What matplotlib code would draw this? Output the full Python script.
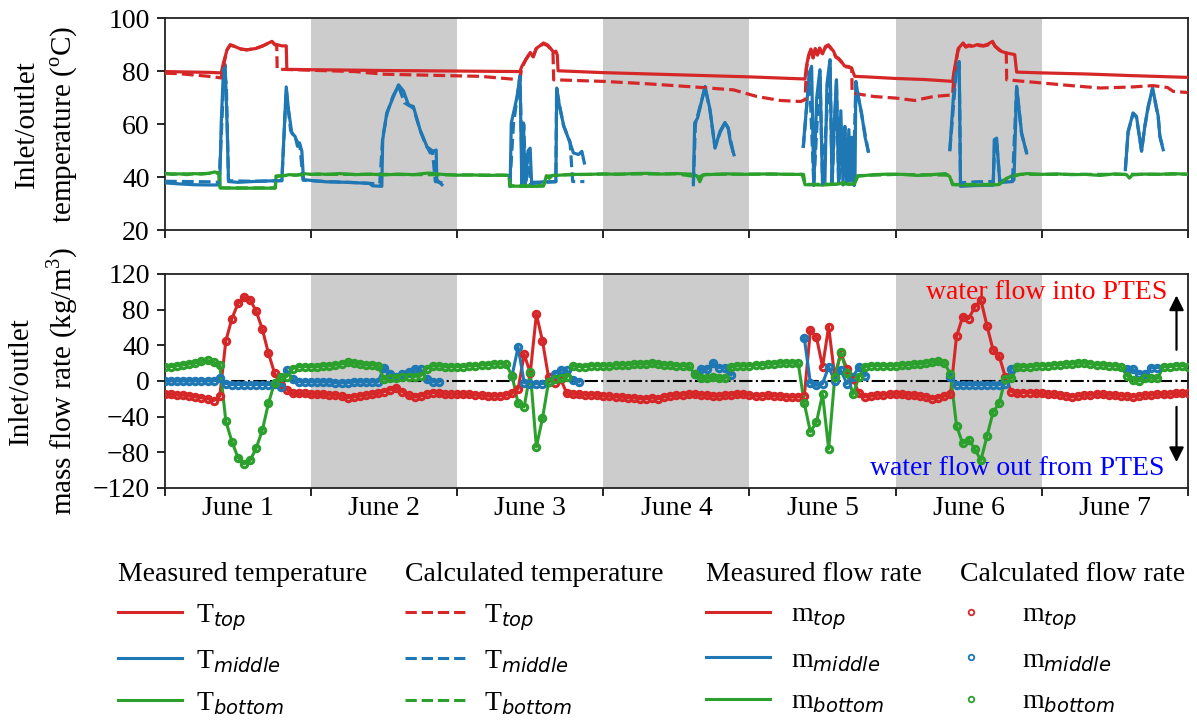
import numpy as np
import matplotlib
matplotlib.use("Agg")
import matplotlib.pyplot as plt
from matplotlib.lines import Line2D

plt.rcParams['font.family'] = ['Liberation Serif', 'DejaVu Sans']
plt.rcParams['mathtext.fontset'] = 'custom'
plt.rcParams['mathtext.rm'] = 'Liberation Serif'
plt.rcParams['mathtext.it'] = 'DejaVu Sans:italic'
plt.rcParams['mathtext.bf'] = 'Liberation Serif:bold'

RED, BLUE, GREEN = '#d62728', '#1f77b4', '#2ca02c'
NA = np.nan

day_labels = ['June 1', 'June 2', 'June 3', 'June 4', 'June 5', 'June 6', 'June 7']
temp_ticks = [20, 40, 60, 80, 100]
flow_ticks = [-120, -80, -40, 0, 40, 80, 120]
shaded_days = [(1, 2), (3, 4), (5, 6)]

# ---- temperatures: (day, degC) vertices, None breaks a trace ----
t_top_meas = [
    (0.00, 79.8), (0.10, 79.7), (0.20, 79.6), (0.30, 79.5), (0.385, 79.3), (0.40, 83.0),
    (0.425, 88.0), (0.447, 89.9), (0.48, 89.2), (0.52, 88.3), (0.56, 88.0), (0.62, 88.5),
    (0.67, 89.5), (0.71, 90.6), (0.732, 91.2), (0.75, 90.2), (0.80, 89.5), (0.83, 89.5),
    (0.834, 80.6), (0.90, 80.6), (1.00, 80.5), (1.20, 80.4), (1.50, 80.2), (2.00, 80.0),
    (2.43, 79.8), (2.44, 81.5), (2.47, 84.5), (2.50, 87.0), (2.52, 85.5), (2.54, 88.5),
    (2.565, 89.5), (2.59, 90.6), (2.62, 89.8), (2.64, 88.5), (2.66, 87.0), (2.675, 87.5),
    (2.685, 86.0), (2.69, 80.1), (3.00, 79.4), (3.50, 78.6), (4.00, 77.8), (4.38, 77.0),
    (4.39, 82.0), (4.405, 86.0), (4.42, 88.3), (4.435, 85.0), (4.45, 88.5), (4.465, 86.0),
    (4.48, 88.7), (4.50, 86.5), (4.52, 89.3), (4.54, 89.9), (4.56, 88.5), (4.575, 87.5),
    (4.59, 85.5), (4.61, 84.8), (4.63, 83.5), (4.65, 81.9), (4.68, 81.7), (4.70, 80.8),
    (4.72, 78.0), (4.80, 77.8), (5.00, 77.2), (5.20, 76.8), (5.39, 76.1), (5.40, 80.0),
    (5.428, 88.5), (5.462, 90.6), (5.48, 89.3), (5.50, 89.8), (5.53, 89.4), (5.56, 90.0),
    (5.60, 89.6), (5.63, 90.1), (5.663, 91.2), (5.68, 89.5), (5.724, 87.4), (5.76, 86.8),
    (5.815, 86.2), (5.828, 79.6), (6.00, 79.3), (6.30, 78.9), (6.60, 78.3), (7.00, 77.6),
]
t_top_calc = [
    (0.00, 79.2), (0.10, 79.0), (0.20, 78.5), (0.30, 78.0), (0.385, 77.4), (0.40, 82.0),
    (0.425, 88.0), (0.447, 89.9), (0.48, 89.2), (0.52, 88.3), (0.56, 88.0), (0.62, 88.5),
    (0.67, 89.5), (0.71, 90.6), (0.732, 91.2), (0.75, 90.0), (0.765, 89.5), (0.768, 80.7),
    (0.90, 80.5), (1.00, 80.3), (1.30, 79.8), (1.50, 78.8), (2.16, 78.0), (2.43, 76.7),
    (2.44, 81.0), (2.47, 84.3), (2.50, 86.8), (2.52, 85.3), (2.54, 88.3), (2.565, 89.3),
    (2.59, 90.3), (2.62, 89.5), (2.64, 88.2), (2.655, 87.8), (2.66, 76.7), (3.00, 76.1),
    (3.30, 75.2), (3.62, 74.0), (3.89, 72.9), (4.05, 70.4), (4.21, 68.9), (4.35, 68.5),
    (4.38, 69.2), (4.39, 81.0), (4.405, 85.5), (4.42, 88.0), (4.435, 85.0), (4.45, 88.2),
    (4.465, 86.0), (4.48, 88.5), (4.50, 86.3), (4.52, 89.0), (4.54, 89.6), (4.56, 88.3),
    (4.575, 87.2), (4.59, 85.3), (4.61, 84.5), (4.63, 83.3), (4.65, 81.7), (4.70, 81.2),
    (4.702, 71.7), (4.85, 70.4), (5.00, 69.8), (5.13, 68.9), (5.26, 70.4), (5.39, 71.0),
    (5.40, 79.0), (5.428, 88.0), (5.462, 90.3), (5.48, 89.0), (5.50, 89.5), (5.53, 89.2),
    (5.56, 89.7), (5.60, 89.4), (5.63, 89.8), (5.663, 91.0), (5.68, 89.3), (5.724, 87.2),
    (5.757, 86.9), (5.76, 76.7), (6.00, 75.5), (6.20, 74.5), (6.40, 73.6), (6.62, 74.0),
    (6.76, 74.5), (6.86, 73.8), (6.90, 72.3), (7.00, 71.9),
]
t_mid_meas = [
    (0.00, 37.8), (0.10, 37.4), (0.20, 37.1), (0.30, 37.0), (0.375, 37.0), (0.385, 60.0),
    (0.40, 80.0), (0.412, 82.4), (0.425, 60.0), (0.435, 38.3), (0.50, 38.0), (0.60, 38.3),
    (0.70, 38.5), (0.80, 38.7), (0.83, 74.0), (0.845, 65.5), (0.868, 56.6), (0.891, 55.3),
    (0.907, 51.6), (0.921, 52.9), (0.937, 49.7), (0.948, 39.0), (1.10, 38.2), (1.25, 38.0),
    (1.40, 37.6), (1.42, 36.7), (1.484, 36.5), (1.49, 54.1), (1.518, 64.2), (1.564, 70.4),
    (1.598, 74.8), (1.632, 72.5), (1.666, 67.3), (1.70, 66.6), (1.746, 57.8), (1.792, 51.6),
    (1.815, 49.1), (1.837, 49.7), (1.856, 50.2), (1.86, 39.0), (1.895, 37.1), None,
    (2.362, 36.5), (2.37, 60.4), (2.39, 65.4), (2.41, 70.4), (2.43, 78.6), (2.442, 36.5),
    (2.453, 60.4), (2.465, 36.5), (2.485, 50.0), (2.499, 50.9), (2.51, 36.5), (2.521, 38.0),
    (2.60, 38.2), (2.675, 38.3), (2.681, 73.6), (2.70, 66.6), (2.73, 59.1), (2.772, 52.9),
    (2.795, 49.1), (2.83, 48.5), (2.853, 49.7), (2.87, 45.3), None,
    (3.616, 37.1), (3.625, 60.4), (3.645, 62.3), (3.696, 74.2), (3.73, 65.4), (3.764, 50.9),
    (3.798, 57.2), (3.832, 60.6), (3.855, 58.5), (3.87, 52.9), (3.894, 48.4), None,
    (4.368, 51.6), (4.39, 66.0), (4.41, 79.5), (4.425, 81.8), (4.44, 36.8), (4.46, 70.0),
    (4.482, 80.5), (4.50, 37.0), (4.516, 38.0), (4.53, 75.0), (4.551, 84.3), (4.565, 37.2),
    (4.58, 60.0), (4.595, 76.7), (4.61, 37.5), (4.625, 65.0), (4.64, 37.0), (4.653, 59.1),
    (4.665, 38.0), (4.68, 57.9), (4.69, 38.5), (4.70, 55.0), (4.71, 40.0), (4.716, 36.8),
    (4.722, 40.0), (4.728, 76.1), (4.745, 70.0), (4.767, 64.2), (4.79, 55.3), (4.813, 49.7),
    None,
    (5.371, 50.3), (5.394, 69.2), (5.417, 81.8), (5.435, 83.6), (5.444, 36.5), (5.55, 36.8),
    (5.668, 36.9), (5.675, 54.1), (5.691, 54.7), (5.702, 46.5), (5.713, 37.9), (5.80, 38.3),
    (5.81, 39.0), (5.828, 74.2), (5.862, 56.6), (5.896, 49.1), None,
    (6.572, 42.8), (6.591, 57.2), (6.625, 64.2), (6.648, 62.9), (6.683, 49.7), (6.705, 59.1),
    (6.728, 66.6), (6.758, 73.6), (6.797, 62.9), (6.808, 55.3), (6.831, 50.3),
]
t_mid_calc = [
    (0.00, 38.4), (0.15, 38.3), (0.30, 38.2), (0.37, 38.0), (0.385, 55.0), (0.405, 80.5),
    (0.42, 75.0), (0.435, 38.6), (0.60, 38.4), (0.80, 38.6), (0.83, 73.0), (0.86, 57.5),
    (0.90, 54.0), (0.925, 51.0), (0.945, 38.8), (1.10, 38.3), (1.30, 37.9), (1.47, 37.4),
    (1.49, 55.0), (1.52, 64.0), (1.56, 70.5), (1.598, 74.3), (1.64, 68.0), (1.70, 66.0),
    (1.75, 57.0), (1.79, 51.5), (1.83, 49.9), (1.85, 38.3), (1.90, 37.8), None,
    (2.36, 37.2), (2.385, 60.0), (2.41, 70.0), (2.43, 78.0), (2.445, 37.5), (2.455, 60.0),
    (2.47, 37.5), (2.49, 51.0), (2.50, 37.5), (2.60, 38.0), (2.675, 38.2), (2.68, 73.0),
    (2.727, 59.5), (2.772, 53.2), (2.79, 38.3), (2.87, 38.3), None,
    (3.616, 37.5), (3.63, 60.0), (3.696, 73.8), (3.73, 65.0), (3.764, 51.2), (3.80, 57.0),
    (3.832, 60.3), (3.855, 58.3), (3.89, 48.8), None,
    (4.368, 51.0), (4.41, 79.0), (4.44, 37.2), (4.482, 80.0), (4.50, 37.5), (4.551, 84.0),
    (4.565, 37.5), (4.595, 76.0), (4.61, 38.0), (4.653, 59.0), (4.665, 38.3), (4.71, 39.5),
    (4.728, 75.5), (4.767, 63.5), (4.813, 49.5), None,
    (5.371, 50.0), (5.417, 81.5), (5.435, 83.2), (5.444, 37.8), (5.55, 38.2), (5.668, 38.3),
    (5.679, 54.0), (5.691, 53.5), (5.702, 46.0), (5.713, 38.5), (5.80, 38.8), (5.828, 73.8),
    (5.862, 56.3), (5.896, 49.3), None,
    (6.572, 43.0), (6.591, 57.0), (6.625, 64.0), (6.648, 62.5), (6.683, 50.0), (6.705, 59.0),
    (6.728, 66.3), (6.758, 73.3), (6.797, 62.5), (6.808, 55.5), (6.831, 50.5),
]
t_bot_meas = [
    (0.00, 41.4), (0.05, 41.0), (0.10, 41.2), (0.15, 40.9), (0.20, 41.3), (0.25, 41.1),
    (0.30, 41.4), (0.34, 41.9), (0.37, 41.6), (0.378, 35.9), (0.50, 35.8), (0.65, 35.8),
    (0.755, 35.8), (0.76, 40.2), (0.80, 40.4), (0.85, 40.9), (0.90, 40.7), (0.95, 41.3),
    (1.00, 41.0), (1.05, 41.2), (1.10, 41.0), (1.20, 41.3), (1.30, 40.9), (1.40, 41.1),
    (1.50, 40.8), (1.60, 41.1), (1.70, 40.9), (1.80, 41.5), (1.90, 41.0), (2.00, 40.7),
    (2.10, 40.8), (2.20, 40.6), (2.30, 40.7), (2.355, 40.6), (2.36, 36.6), (2.45, 36.5),
    (2.55, 36.5), (2.59, 36.6), (2.61, 40.5), (2.63, 39.5), (2.65, 40.6), (2.70, 40.7),
    (2.80, 41.0), (2.90, 41.0), (3.00, 41.2), (3.10, 41.0), (3.20, 41.3), (3.30, 41.4),
    (3.40, 41.1), (3.50, 41.3), (3.60, 41.1), (3.64, 40.5), (3.66, 38.2), (3.68, 40.8),
    (3.75, 41.0), (3.85, 41.2), (3.95, 41.0), (4.05, 41.1), (4.15, 41.2), (4.25, 41.0),
    (4.36, 41.0), (4.38, 37.1), (4.50, 37.0), (4.60, 37.3), (4.65, 38.0), (4.68, 37.2),
    (4.72, 37.5), (4.74, 40.3), (4.85, 40.9), (4.95, 41.1), (5.05, 41.0), (5.15, 40.6),
    (5.25, 40.9), (5.34, 41.3), (5.37, 40.2), (5.39, 37.1), (5.50, 37.0), (5.60, 37.0),
    (5.70, 37.1), (5.75, 39.2), (5.80, 40.6), (5.90, 41.3), (6.00, 41.0), (6.10, 41.2),
    (6.20, 40.9), (6.30, 41.0), (6.40, 40.6), (6.50, 41.2), (6.58, 40.9), (6.60, 39.6),
    (6.62, 40.8), (6.70, 41.1), (6.80, 41.0), (6.90, 41.3), (7.00, 41.0),
]
t_bot_calc = [
    (0.00, 41.2), (0.20, 41.2), (0.37, 41.5), (0.378, 35.9), (0.755, 35.9), (0.76, 40.4),
    (1.00, 41.0), (1.50, 41.0), (2.00, 40.8), (2.355, 40.7), (2.36, 36.7), (2.59, 36.7),
    (2.61, 40.3), (2.70, 40.8), (3.00, 41.1), (3.50, 41.2), (3.65, 40.0), (3.70, 41.0),
    (4.00, 41.1), (4.37, 41.0), (4.38, 37.2), (4.72, 37.4), (4.74, 40.5), (5.00, 41.0),
    (5.37, 40.7), (5.39, 37.2), (5.71, 37.2), (5.76, 39.5), (5.85, 41.0), (6.50, 41.0),
    (7.00, 41.1),
]

# ---- hourly mass flow rates, hour 0 .. 168 ----
m_top = [
    -15, -15, -16, -16, -17, -18, -19, -20, -22, -17, 45, 70, 87, 94, 91, 78, 58, 31, 9, -4, -10, -14, -14, -14,
    -15, -15, -15, -16, -16, -17, -19, -18, -17, -16, -15, -14, -12, -10, -8, -12, -16, -18, -17, -15, -13, -14, -15, -15,
    -15, -15, -15, -16, -16, -17, -17, -17, -16, -14, -9, 30, 9, 75, 45, 4, -2, 2, -14, -15, -15, -16, -16, -16,
    -17, -17, -18, -18, -19, -19, -20, -20, -19, -20, -18, -17, -16, -16, -15, -15, -16, -16, -17, -17, -16, -16, -15, -15,
    -16, -17, -17, -16, -17, -17, -18, -18, -18, -17, 57, 49, 16, 61, 5, 31, 14, 2, -14, -18, -17, -16, -16, -15,
    -15, -15, -16, -16, -17, -18, -20, -19, -17, -15, 50, 72, 70, 83, 91, 62, 35, 28, 5, -12, -14, -13, -13, -14,
    -14, -15, -15, -16, -17, -18, -17, -16, -16, -15, -15, -16, -16, -17, -17, -18, -17, -16, -16, -15, -15, -15, -14, -14,
    -14,
]
m_middle = [
    0, 0, 0, 0, 0, 0, 0, 0, 0, 3, -3, -4, -4, -4, -4, -4, -4, -4, -3, -7, 12, 2, -1, -1,
    -1, -1, -1, -1, -2, -2, -2, -1, -1, -1, -1, -1, 15, 8, 4, 8, 10, 13, 13, 2, -1, -1, NA, NA,
    NA, NA, NA, NA, NA, NA, NA, NA, NA, 6, 38, -2, -3, -3, -3, -1, 8, 12, 12, 1, -1, NA, NA, NA,
    NA, NA, NA, NA, NA, NA, NA, NA, NA, NA, NA, NA, NA, NA, NA, 8, 13, 13, 20, 15, 15, 7, NA, NA,
    NA, NA, NA, NA, NA, NA, NA, NA, NA, 48, -2, -5, -3, 16, 0, 12, -3, 5, 16, 6, NA, NA, NA, NA,
    NA, NA, NA, NA, NA, NA, NA, NA, NA, 5, -4, -4, -4, -4, -4, -4, -4, -4, -3, 14, 16, NA, NA, NA,
    NA, NA, NA, NA, NA, NA, NA, NA, NA, NA, NA, NA, NA, NA, 13, 13, 8, 8, 15, 15, NA, NA, NA, NA,
    NA,
]
m_bottom = [
    16, 16, 17, 18, 19, 20, 22, 23, 21, 18, -45, -68, -86, -93, -89, -75, -55, -25, -2, 4, 5, 14, 16, 16,
    16, 16, 17, 17, 18, 19, 21, 20, 19, 18, 18, 17, 2, 3, 3, 4, 5, 5, 6, 14, 17, 17, 16, 16,
    16, 16, 17, 17, 18, 18, 19, 19, 19, 6, -25, -29, 10, -74, -42, -1, 2, 3, 4, 17, 16, 16, 17, 17,
    17, 17, 18, 18, 18, 19, 19, 19, 20, 19, 18, 18, 17, 17, 17, 8, 3, 3, 4, 3, 3, 16, 17, 17,
    17, 18, 18, 19, 19, 20, 20, 20, 20, -25, -57, -46, -15, -76, 4, 32, 9, -15, 5, 16, 17, 17, 17, 17,
    17, 18, 18, 19, 19, 20, 21, 22, 20, 8, -50, -70, -66, -76, -89, -62, -35, -25, 2, 3, 16, 16, 16, 17,
    17, 17, 18, 18, 19, 19, 20, 20, 19, 18, 18, 17, 17, 16, 6, 1, 0, 3, 3, 3, 16, 16, 17, 17,
    16,
]


def trace(points):
    arr = np.array([(NA, NA) if p is None else p for p in points], dtype=float)
    return arr[:, 0], arr[:, 1]


def hourly(values):
    v = np.asarray(values, dtype=float)
    return np.arange(len(v)) / 24.0, v


fig = plt.figure(figsize=(11.97, 7.22), dpi=100)
ax1 = fig.add_axes([0.1378, 0.6814, 0.8546, 0.2936])
ax2 = fig.add_axes([0.1378, 0.3241, 0.8546, 0.2964])

for ax in (ax1, ax2):
    for a, b in shaded_days:
        ax.axvspan(a, b, color='#cccccc', lw=0, zorder=0)
    ax.set_xlim(0, 7)
    ax.set_xticks(np.arange(0, 8))
    ax.set_xticklabels([])
    for s in ax.spines.values():
        s.set_linewidth(1.3)
        s.set_color('#222222')
    ax.tick_params(axis='both', which='major', direction='out', length=6, width=1.2,
                   labelsize=20, pad=5)

# temperature panel
lw = 2.3
ax1.plot(*trace(t_top_meas), color=RED, lw=lw, zorder=3)
ax1.plot(*trace(t_mid_meas), color=BLUE, lw=lw, zorder=3)
ax1.plot(*trace(t_bot_meas), color=GREEN, lw=lw, zorder=3)
ax1.plot(*trace(t_top_calc), color=RED, lw=lw, ls='--', zorder=4)
ax1.plot(*trace(t_mid_calc), color=BLUE, lw=lw, ls='--', zorder=4)
ax1.plot(*trace(t_bot_calc), color=GREEN, lw=lw, ls='--', zorder=4)
ax1.set_ylim(20, 100)
ax1.set_yticks(temp_ticks)
ax1.set_ylabel('Inlet/outlet\ntemperature ($^{\\mathrm{o}}$C)', fontsize=21,
               linespacing=1.4)
ax1.yaxis.set_label_coords(-0.083, 0.5)

# flow panel
ax2.axhline(0, color='black', lw=1.5, ls='-.', zorder=2)
for vals, col in ((m_top, RED), (m_middle, BLUE), (m_bottom, GREEN)):
    x, y = hourly(vals)
    ax2.plot(x, y, color=col, lw=2.2, zorder=3)
    ax2.plot(x, y, ls='none', marker='o', ms=4.6, mfc='none', mec=col, mew=2.2, zorder=4)
ax2.set_ylim(-120, 120)
ax2.set_yticks(flow_ticks)
ax2.set_ylabel('Inlet/outlet\nmass flow rate (kg/m$^{3}$)', fontsize=21, linespacing=1.4)
ax2.yaxis.set_label_coords(-0.083, 0.5)
ax2.set_xticks(np.arange(0.5, 7, 1), minor=True)
ax2.set_xticklabels(day_labels, minor=True)
ax2.tick_params(axis='x', which='minor', length=0, labelsize=20, pad=6)

ax2.text(6.862, 99, 'water flow into PTES', color='red', fontsize=20, ha='right', va='center')
ax2.text(6.842, -98, 'water flow out from PTES', color='blue', fontsize=20, ha='right', va='center')
arrow = dict(arrowstyle='-|>', color='black', lw=1.6, mutation_scale=22, shrinkA=0, shrinkB=0)
ax2.annotate('', xy=(6.922, 96), xytext=(6.922, 35), arrowprops=arrow)
ax2.annotate('', xy=(6.922, -91), xytext=(6.922, -29), arrowprops=arrow)

# legends below the panels
def lines(style):
    return [Line2D([], [], color=c, lw=2.2, ls=style) for c in (RED, BLUE, GREEN)]


t_labels = ['T$_{top}$', 'T$_{middle}$', 'T$_{bottom}$']
m_labels = ['m$_{top}$', 'm$_{middle}$', 'm$_{bottom}$']
dots = [Line2D([], [], ls='none', marker='o', ms=4, mfc='none', mec=c, mew=1.3)
        for c in (RED, BLUE, GREEN)]

common = dict(loc='upper left', frameon=False, fontsize=20, title_fontsize=20,
              alignment='left', borderpad=0, borderaxespad=0, labelspacing=0.55)
groups = [
    (lines('-'), t_labels, 'Measured temperature', 0.0986, 2.3, 0.5),
    (lines('--'), t_labels, 'Calculated temperature', 0.3383, 2.2, 0.65),
    (lines('-'), m_labels, 'Measured flow rate', 0.5898, 2.3, 0.75),
    (dots, m_labels, 'Calculated flow rate', 0.8020, 0.8, 1.45),
]
for handles, labels, title, xpos, hl, pad in groups:
    fig.legend(handles, labels, title=title, bbox_to_anchor=(xpos, 0.222),
               handlelength=hl, handletextpad=pad, numpoints=1, **common)

fig.savefig('out.png', dpi=100)
